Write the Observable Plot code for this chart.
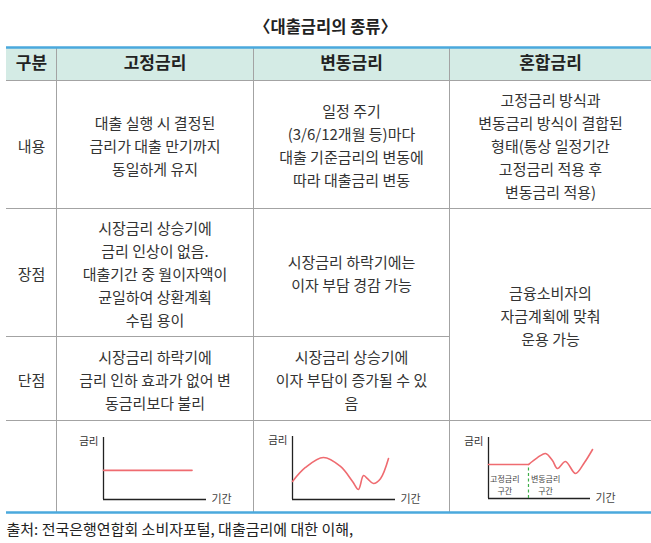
<!DOCTYPE html>
<html><head><meta charset="utf-8">
<script src="https://cdn.jsdelivr.net/npm/d3@7"></script>
<script src="https://cdn.jsdelivr.net/npm/@observablehq/plot@0.6"></script>
<style>
body{margin:0;background:#fff;}
#wrap{position:relative;width:651px;height:543px;overflow:hidden;}
#wrap > svg{position:absolute;overflow:visible;}
</style></head><body><div id="wrap"></div>
<script>
// ---- text content ----
const title = "〈대출금리의 종류〉";
const caption = "출처: 전국은행연합회 소비자포털, 대출금리에 대한 이해,";
const headers = ["구분", "고정금리", "변동금리", "혼합금리"];
const rowLabels = ["내용", "장점", "단점"];
const fixedText = [
  "대출 실행 시 결정된\n금리가 대출 만기까지\n동일하게 유지",
  "시장금리 상승기에\n금리 인상이 없음.\n대출기간 중 월이자액이\n균일하여 상환계획\n수립 용이",
  "시장금리 하락기에\n금리 인하 효과가 없어 변\n동금리보다 불리"
];
const variableText = [
  "일정 주기\n(3/6/12개월 등)마다\n대출 기준금리의 변동에\n따라 대출금리 변동",
  "시장금리 하락기에는\n이자 부담 경감 가능",
  "시장금리 상승기에\n이자 부담이 증가될 수 있\n음"
];
const mixedText = [
  "고정금리 방식과\n변동금리 방식이 결합된\n형태(통상 일정기간\n고정금리 적용 후\n변동금리 적용)",
  "금융소비자의\n자금계획에 맞춰\n운용 가능"
];
const axisLabels = ["금리", "기간"];
const segmentLabels = ["고정금리\n구간", "변동금리\n구간"];

// ---- mini chart series: t = 기간 (0–100), r = 금리 (0–100) ----
const fixedT = [0, 86];
const fixedR = [47, 47];
const variableT = [0, 12.6, 30, 46.6, 58.3, 64, 68.9, 72.8, 78.6, 85.4, 93.2];
const variableR = [28.6, 50.8, 66.7, 52.4, 28.6, 16, 38, 33, 25.4, 33, 65];
const mixedFixedT = [0, 39.2];
const mixedFixedR = [55.7, 55.7];
const mixedVarT = [39.2, 48, 55.9, 62.7, 67.6, 75.5, 85.3, 94.1, 102];
const mixedVarR = [55.7, 67, 73.8, 62.3, 49.2, 60.7, 41, 59, 80.3];
const switchT = 39.2;

// ---- layout ----
const FONT = "'Noto Sans CJK KR', 'Noto Sans', sans-serif";
const W = 651, H = 543;
const XE = [6, 56, 253, 449, 651];          // column edges
const YE = [47, 80, 208, 336, 420, 512];    // row edges
const cx = i => (XE[i] + XE[i + 1]) / 2;
const cy = i => (YE[i] + YE[i + 1]) / 2;

const headerCells = headers.map((t, i) => ({x: cx(i), y: cy(0), text: t}));
const bodyCells = [];
rowLabels.forEach((t, r) => bodyCells.push({x: cx(0), y: cy(r + 1), text: t}));
fixedText.forEach((t, r) => bodyCells.push({x: cx(1), y: cy(r + 1), text: t}));
variableText.forEach((t, r) => bodyCells.push({x: cx(2), y: cy(r + 1), text: t}));
bodyCells.push({x: cx(3), y: cy(1), text: mixedText[0]});
bodyCells.push({x: cx(3), y: (YE[2] + YE[4]) / 2, text: mixedText[1]});

const hLines = [
  {y: YE[1], x1: XE[0], x2: XE[4]},
  {y: YE[2], x1: XE[0], x2: XE[4]},
  {y: YE[3], x1: XE[0], x2: XE[3]},
  {y: YE[4], x1: XE[0], x2: XE[4]}
];
const vLines = [1, 2, 3].map(i => ({x: XE[i], y1: YE[0], y2: YE[5]}));
const blueLines = [YE[0], YE[5]].map(y => ({y, x1: XE[0], x2: XE[4]}));

const main = Plot.plot({
  width: W, height: H, margin: 0,
  x: {type: "identity", axis: null},
  y: {type: "identity", axis: null},
  style: {fontFamily: FONT, background: "#fff"},
  marks: [
    Plot.rect([{}], {x1: () => XE[0], x2: () => XE[4], y1: () => YE[0], y2: () => YE[1], fill: "#d4ebe5"}),
    Plot.ruleY(hLines, {y: "y", x1: "x1", x2: "x2", stroke: "#a3a3a3", strokeWidth: 1}),
    Plot.ruleX(vLines, {x: "x", y1: "y1", y2: "y2", stroke: "#a3a3a3", strokeWidth: 1}),
    Plot.ruleY(blueLines, {y: "y", x1: "x1", x2: "x2", stroke: "#4aa9dd", strokeWidth: 2.5}),
    Plot.text([title], {x: () => 325, y: () => 27, text: d => d, fontSize: 16.5, fontWeight: "bold", fill: "#222"}),
    Plot.text(headerCells, {x: "x", y: "y", text: "text", fontSize: 17, fontWeight: "bold", fill: "#222"}),
    Plot.text(bodyCells, {x: "x", y: "y", text: "text", fontSize: 15, lineHeight: 23 / 15, fill: "#333"}),
    Plot.text([caption], {x: () => XE[0], y: () => 530, text: d => d, fontSize: 15, textAnchor: "start", fill: "#222"})
  ]
});
main.style.left = "0px"; main.style.top = "0px";
document.getElementById("wrap").appendChild(main);

// ---- mini charts ----
function mini({left, width, mt, mb, ml, mr, marks}) {
  const top = YE[4], height = YE[5] - YE[4];
  const p = Plot.plot({
    width, height, marginLeft: ml, marginRight: mr, marginTop: mt, marginBottom: mb,
    x: {domain: [0, 100], axis: null},
    y: {domain: [0, 100], axis: null},
    style: {fontFamily: FONT, background: "transparent", overflow: "visible"},
    marks: [
      Plot.ruleY([0], {stroke: "#222", strokeWidth: 1.3}),
      Plot.ruleX([0], {stroke: "#222", strokeWidth: 1.3}),
      Plot.text([axisLabels[0]], {x: () => 0, y: () => 100, text: d => d, textAnchor: "end", dx: -5, dy: 4, fontSize: 10.5, fill: "#333"}),
      Plot.text([axisLabels[1]], {x: () => 100, y: () => 0, text: d => d, textAnchor: "start", dx: 5, dy: 0, fontSize: 11, fill: "#444"}),
      ...marks
    ]
  });
  p.style.left = left + "px"; p.style.top = top + "px";
  document.getElementById("wrap").appendChild(p);
}
const RED = "#ef6b70";
const pts = (T, R) => T.map((t, i) => ({t, r: R[i]}));

mini({left: XE[1] + 4, width: XE[2] - XE[1] - 4, ml: 103 - (XE[1] + 4), mr: XE[2] - 206, mt: 437 - YE[4], mb: YE[5] - 499,
  marks: [Plot.line(pts(fixedT, fixedR), {x: "t", y: "r", stroke: RED, strokeWidth: 1.6})]});

mini({left: XE[2] + 1, width: XE[3] - XE[2] - 1, ml: 292 - (XE[2] + 1), mr: XE[3] - 395, mt: 436 - YE[4], mb: YE[5] - 499,
  marks: [Plot.line(pts(variableT, variableR), {x: "t", y: "r", stroke: RED, strokeWidth: 1.6, curve: "catmull-rom"})]});

mini({left: XE[3] + 1, width: XE[4] - XE[3] - 1, ml: 488 - (XE[3] + 1), mr: XE[4] - 590, mt: 437 - YE[4], mb: YE[5] - 498,
  marks: [
    Plot.ruleX([switchT], {y1: 0, y2: mixedFixedR[1], stroke: "#3fae49", strokeWidth: 1.2, strokeDasharray: "3,2.5"}),
    Plot.line(pts(mixedFixedT, mixedFixedR), {x: "t", y: "r", stroke: RED, strokeWidth: 1.6}),
    Plot.line(pts(mixedVarT, mixedVarR), {x: "t", y: "r", stroke: RED, strokeWidth: 1.6, curve: "catmull-rom"}),
    Plot.text(segmentLabels, {x: (d, i) => [16, 56][i], y: () => 24, text: d => d, fontSize: 8, lineHeight: 1.6, fill: "#444"})
  ]});
</script></body></html>
